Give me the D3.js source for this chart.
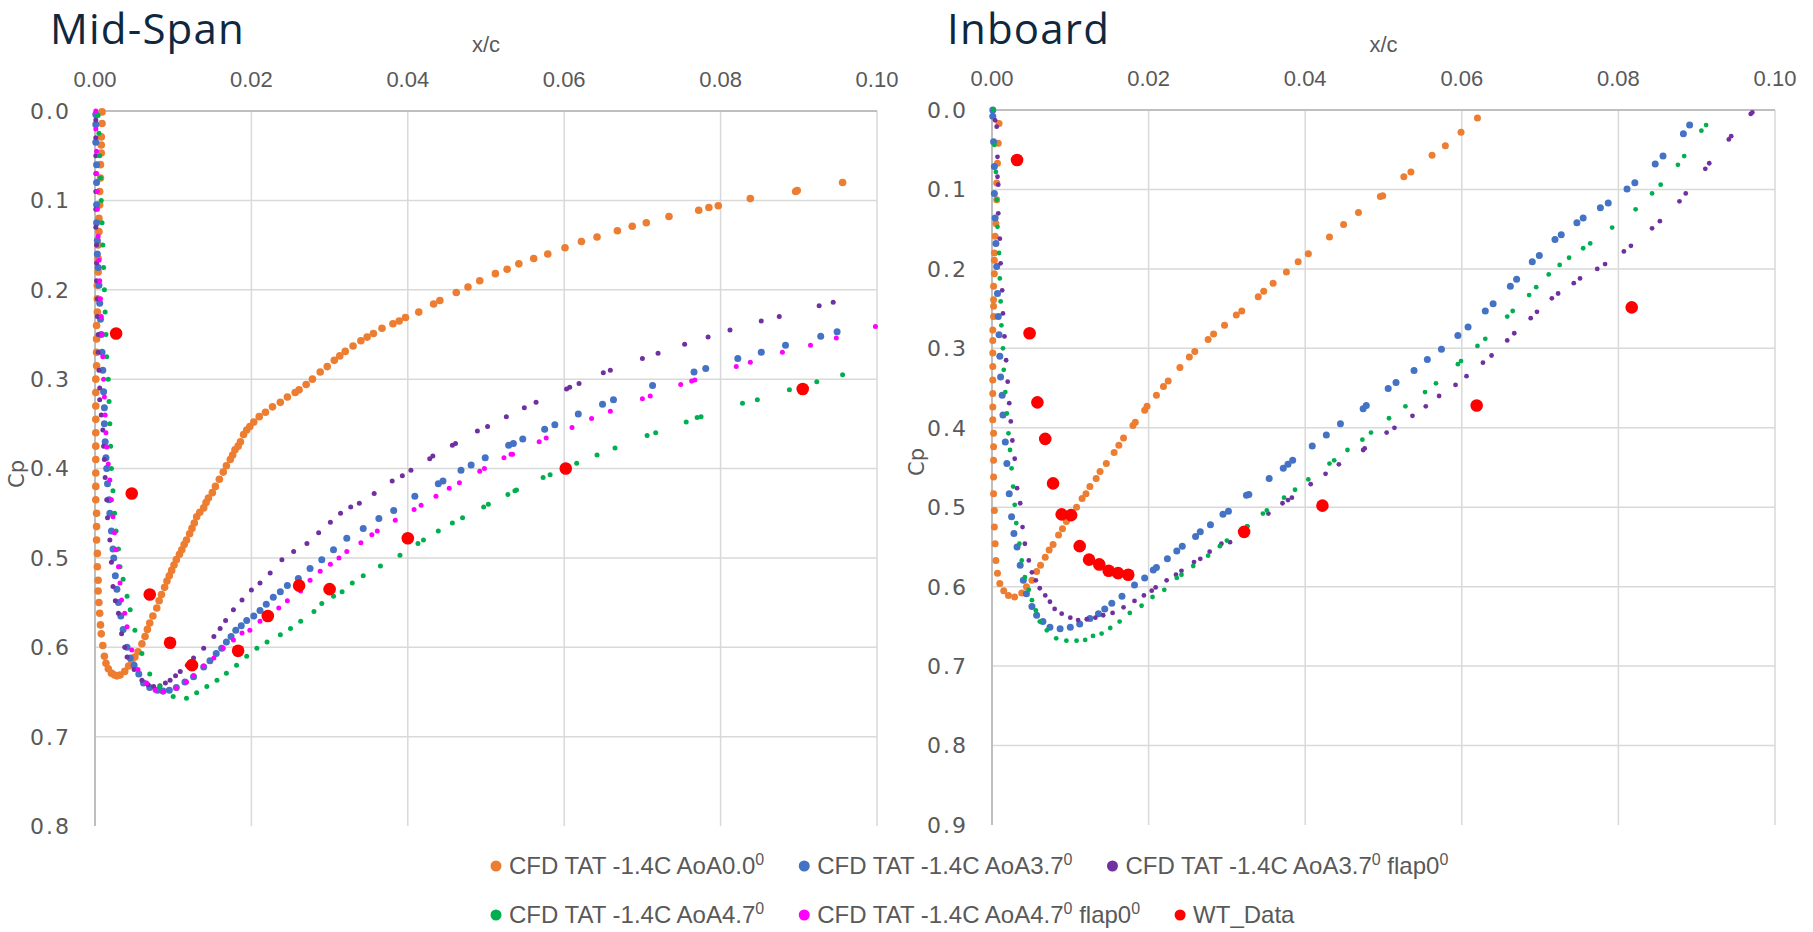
<!DOCTYPE html>
<html>
<head>
<meta charset="utf-8">
<script src="https://cdn.jsdelivr.net/npm/d3@7"></script>
<style>
  body { margin: 0; background: #ffffff; }
  svg { display: block; }
</style>
</head>
<body>
<svg id="chart" width="1813" height="932"></svg>
<script>
// ---- data (x/c, Cp) ----
let xTicks = [0, 0.02, 0.04, 0.06, 0.08, 0.10];
let midYTicks = [0, 0.1, 0.2, 0.3, 0.4, 0.5, 0.6, 0.7, 0.8];
let inbYTicks = [0, 0.1, 0.2, 0.3, 0.4, 0.5, 0.6, 0.7, 0.8, 0.9];

let legendLabels = [
  ["CFD TAT -1.4C AoA0.0", "0", ""],
  ["CFD TAT -1.4C AoA3.7", "0", ""],
  ["CFD TAT -1.4C AoA3.7", "0", " flap0", "0"],
  ["CFD TAT -1.4C AoA4.7", "0", ""],
  ["CFD TAT -1.4C AoA4.7", "0", " flap0", "0"],
  ["WT_Data"]
];

// Mid-Span
let midOrange = [[0.0009,0.001],[0.0009,0.014],[0.0008,0.029],[0.0008,0.038],[0.0008,0.047],[0.0007,0.060],[0.0007,0.075],[0.0006,0.090],[0.0006,0.105],[0.0005,0.120],[0.0005,0.135],[0.0004,0.150],[0.0004,0.165],[0.0004,0.180],[0.0003,0.195],[0.0003,0.210],[0.0003,0.225],[0.0002,0.240],[0.0002,0.255],[0.0002,0.270],[0.0002,0.285],[0.0001,0.300],[0.0001,0.315],[0.0001,0.330],[0.0001,0.345],[0.0001,0.360],[0.0001,0.375],[0.0001,0.390],[0.0001,0.405],[0.0001,0.420],[0.0001,0.435],[0.0002,0.450],[0.0002,0.465],[0.0002,0.480],[0.0003,0.495],[0.0003,0.510],[0.0004,0.525],[0.0004,0.537],[0.0005,0.550],[0.0006,0.562],[0.0007,0.575],[0.0008,0.585],[0.0010,0.598],[0.0012,0.610],[0.0014,0.618],[0.0017,0.624],[0.0021,0.629],[0.0025,0.631],[0.0028,0.632],[0.0032,0.631],[0.0038,0.627],[0.0043,0.621],[0.0047,0.617],[0.0051,0.611],[0.0055,0.605],[0.0060,0.596],[0.0064,0.588],[0.0067,0.580],[0.0070,0.573],[0.0074,0.565],[0.0079,0.556],[0.0082,0.548],[0.0085,0.541],[0.0089,0.533],[0.0092,0.526],[0.0095,0.520],[0.0098,0.514],[0.0101,0.508],[0.0104,0.502],[0.0108,0.496],[0.0111,0.491],[0.0114,0.485],[0.0117,0.480],[0.0121,0.473],[0.0124,0.467],[0.0127,0.461],[0.0130,0.454],[0.0134,0.449],[0.0139,0.444],[0.0142,0.438],[0.0145,0.433],[0.0150,0.427],[0.0154,0.420],[0.0159,0.412],[0.0164,0.404],[0.0168,0.397],[0.0173,0.390],[0.0176,0.385],[0.0179,0.379],[0.0183,0.375],[0.0186,0.370],[0.0190,0.362],[0.0194,0.357],[0.0198,0.353],[0.0203,0.348],[0.0210,0.342],[0.0218,0.337],[0.0227,0.331],[0.0237,0.326],[0.0246,0.320],[0.0256,0.315],[0.0261,0.312],[0.0270,0.306],[0.0278,0.300],[0.0288,0.292],[0.0297,0.286],[0.0306,0.279],[0.0313,0.274],[0.0320,0.269],[0.0330,0.263],[0.0340,0.257],[0.0348,0.253],[0.0356,0.249],[0.0367,0.243],[0.0381,0.238],[0.0389,0.235],[0.0397,0.231],[0.0414,0.225],[0.0433,0.216],[0.0441,0.212],[0.0462,0.203],[0.0477,0.197],[0.0492,0.190],[0.0512,0.182],[0.0527,0.177],[0.0542,0.171],[0.0561,0.165],[0.0579,0.160],[0.0601,0.153],[0.0622,0.146],[0.0642,0.141],[0.0668,0.134],[0.0687,0.129],[0.0705,0.125],[0.0734,0.118],[0.0772,0.111],[0.0785,0.108],[0.0797,0.106],[0.0838,0.098],[0.0896,0.090],[0.0898,0.089],[0.0956,0.080]];

let midBlue = [[0.0001,0.004],[0.0001,0.015],[0.0001,0.035],[0.0002,0.060],[0.0002,0.080],[0.0002,0.105],[0.0002,0.125],[0.0003,0.145],[0.0003,0.160],[0.0004,0.175],[0.0005,0.195],[0.0006,0.215],[0.0007,0.233],[0.0008,0.250],[0.0009,0.270],[0.0010,0.290],[0.0011,0.314],[0.0012,0.332],[0.0012,0.350],[0.0013,0.370],[0.0014,0.388],[0.0015,0.400],[0.0016,0.417],[0.0018,0.435],[0.0019,0.450],[0.0021,0.470],[0.0023,0.490],[0.0024,0.500],[0.0026,0.520],[0.0028,0.535],[0.0030,0.550],[0.0033,0.565],[0.0036,0.580],[0.0041,0.600],[0.0045,0.612],[0.0050,0.620],[0.0056,0.630],[0.0062,0.640],[0.0070,0.645],[0.0080,0.648],[0.0087,0.649],[0.0095,0.648],[0.0104,0.645],[0.0115,0.639],[0.0126,0.633],[0.0139,0.622],[0.0147,0.615],[0.0155,0.607],[0.0162,0.601],[0.0168,0.594],[0.0174,0.588],[0.0180,0.581],[0.0187,0.576],[0.0194,0.570],[0.0203,0.565],[0.0211,0.559],[0.0219,0.552],[0.0228,0.544],[0.0237,0.538],[0.0246,0.531],[0.0260,0.523],[0.0275,0.512],[0.0290,0.502],[0.0305,0.491],[0.0322,0.478],[0.0343,0.467],[0.0363,0.456],[0.0382,0.447],[0.0409,0.431],[0.0439,0.417],[0.0445,0.414],[0.0468,0.402],[0.0481,0.396],[0.0499,0.388],[0.0529,0.374],[0.0535,0.372],[0.0547,0.367],[0.0575,0.356],[0.0588,0.351],[0.0618,0.339],[0.0649,0.328],[0.0663,0.323],[0.0713,0.307],[0.0766,0.292],[0.0781,0.288],[0.0822,0.277],[0.0852,0.270],[0.0883,0.262],[0.0928,0.252],[0.0949,0.247]];

let midPurple = [[0.0001,0.010],[0.0001,0.030],[0.0001,0.050],[0.0001,0.070],[0.0001,0.090],[0.0001,0.110],[0.0001,0.130],[0.0002,0.150],[0.0002,0.170],[0.0002,0.190],[0.0003,0.210],[0.0003,0.230],[0.0004,0.250],[0.0004,0.270],[0.0005,0.290],[0.0006,0.310],[0.0006,0.323],[0.0008,0.340],[0.0010,0.357],[0.0011,0.375],[0.0012,0.390],[0.0013,0.410],[0.0015,0.435],[0.0016,0.455],[0.0019,0.480],[0.0021,0.505],[0.0023,0.532],[0.0026,0.548],[0.0030,0.562],[0.0034,0.585],[0.0038,0.600],[0.0041,0.611],[0.0050,0.625],[0.0060,0.637],[0.0068,0.642],[0.0075,0.644],[0.0083,0.643],[0.0090,0.640],[0.0096,0.637],[0.0103,0.632],[0.0109,0.627],[0.0118,0.620],[0.0126,0.612],[0.0139,0.601],[0.0152,0.588],[0.0160,0.579],[0.0167,0.570],[0.0177,0.558],[0.0188,0.547],[0.0200,0.536],[0.0211,0.528],[0.0224,0.517],[0.0239,0.502],[0.0254,0.493],[0.0271,0.484],[0.0286,0.472],[0.0301,0.460],[0.0314,0.450],[0.0327,0.443],[0.0338,0.439],[0.0357,0.428],[0.0380,0.414],[0.0393,0.408],[0.0404,0.402],[0.0428,0.389],[0.0432,0.386],[0.0457,0.374],[0.0461,0.372],[0.0489,0.358],[0.0502,0.353],[0.0526,0.342],[0.0549,0.332],[0.0564,0.326],[0.0603,0.311],[0.0607,0.309],[0.0619,0.305],[0.0650,0.293],[0.0659,0.290],[0.0700,0.277],[0.0720,0.271],[0.0754,0.261],[0.0784,0.253],[0.0812,0.245],[0.0852,0.235],[0.0875,0.230],[0.0926,0.218],[0.0944,0.214]];

let midGreen = [[0.0004,0.005],[0.0005,0.025],[0.0006,0.050],[0.0007,0.075],[0.0008,0.100],[0.0009,0.125],[0.0010,0.150],[0.0011,0.175],[0.0012,0.200],[0.0013,0.225],[0.0014,0.250],[0.0015,0.275],[0.0017,0.300],[0.0018,0.325],[0.0019,0.350],[0.0020,0.375],[0.0021,0.400],[0.0023,0.425],[0.0025,0.450],[0.0027,0.470],[0.0030,0.490],[0.0032,0.510],[0.0036,0.524],[0.0041,0.543],[0.0045,0.558],[0.0051,0.581],[0.0060,0.607],[0.0070,0.630],[0.0083,0.644],[0.0100,0.655],[0.0117,0.657],[0.0130,0.651],[0.0143,0.644],[0.0156,0.637],[0.0168,0.629],[0.0181,0.620],[0.0194,0.610],[0.0207,0.601],[0.0220,0.594],[0.0237,0.586],[0.0250,0.579],[0.0263,0.571],[0.0280,0.560],[0.0290,0.551],[0.0305,0.543],[0.0316,0.538],[0.0329,0.528],[0.0343,0.520],[0.0365,0.509],[0.0390,0.497],[0.0413,0.484],[0.0420,0.480],[0.0439,0.470],[0.0457,0.461],[0.0470,0.455],[0.0497,0.443],[0.0503,0.440],[0.0528,0.429],[0.0537,0.425],[0.0539,0.424],[0.0573,0.410],[0.0582,0.407],[0.0616,0.394],[0.0642,0.385],[0.0665,0.377],[0.0706,0.363],[0.0717,0.360],[0.0756,0.348],[0.0770,0.343],[0.0775,0.342],[0.0828,0.327],[0.0847,0.323],[0.0888,0.312],[0.0923,0.303],[0.0956,0.295]];

let midMagenta = [[0.0001,0.000],[0.0001,0.020],[0.0002,0.045],[0.0002,0.070],[0.0003,0.090],[0.0003,0.110],[0.0004,0.140],[0.0005,0.167],[0.0006,0.190],[0.0007,0.210],[0.0008,0.230],[0.0009,0.250],[0.0010,0.275],[0.0011,0.300],[0.0012,0.320],[0.0013,0.340],[0.0014,0.360],[0.0015,0.376],[0.0017,0.395],[0.0019,0.413],[0.0021,0.435],[0.0023,0.454],[0.0025,0.472],[0.0027,0.491],[0.0030,0.510],[0.0032,0.528],[0.0034,0.547],[0.0038,0.562],[0.0041,0.577],[0.0047,0.603],[0.0055,0.625],[0.0066,0.640],[0.0077,0.648],[0.0087,0.650],[0.0104,0.646],[0.0117,0.639],[0.0126,0.632],[0.0139,0.621],[0.0152,0.612],[0.0164,0.601],[0.0177,0.592],[0.0188,0.584],[0.0198,0.581],[0.0211,0.571],[0.0222,0.564],[0.0235,0.556],[0.0246,0.548],[0.0263,0.537],[0.0275,0.525],[0.0288,0.515],[0.0301,0.507],[0.0312,0.500],[0.0322,0.493],[0.0340,0.483],[0.0354,0.474],[0.0361,0.470],[0.0384,0.458],[0.0408,0.446],[0.0417,0.441],[0.0436,0.431],[0.0453,0.422],[0.0466,0.416],[0.0492,0.403],[0.0498,0.400],[0.0523,0.388],[0.0532,0.384],[0.0534,0.384],[0.0568,0.370],[0.0577,0.366],[0.0610,0.354],[0.0635,0.344],[0.0659,0.336],[0.0700,0.322],[0.0710,0.319],[0.0749,0.306],[0.0763,0.302],[0.0767,0.301],[0.0820,0.286],[0.0838,0.281],[0.0879,0.270],[0.0915,0.262],[0.0948,0.254],[0.0998,0.241]];

let midWT = [[0.0027,0.249],[0.0047,0.428],[0.0070,0.541],[0.0096,0.595],[0.0124,0.620],[0.0183,0.604],[0.0221,0.565],[0.0261,0.531],[0.0300,0.535],[0.0400,0.478],[0.0602,0.400],[0.0905,0.311]];

// Inboard
let inbOrange = [[0.0009,0.017],[0.0008,0.042],[0.0007,0.067],[0.0006,0.092],[0.0006,0.113],[0.0005,0.143],[0.0004,0.159],[0.0003,0.180],[0.0003,0.189],[0.0003,0.206],[0.0002,0.222],[0.0002,0.239],[0.0002,0.247],[0.0002,0.260],[0.0001,0.277],[0.0001,0.290],[0.0001,0.306],[0.0001,0.323],[0.0001,0.340],[0.0001,0.357],[0.0001,0.374],[0.0001,0.390],[0.0002,0.407],[0.0002,0.424],[0.0002,0.441],[0.0002,0.462],[0.0002,0.483],[0.0003,0.504],[0.0003,0.525],[0.0004,0.546],[0.0005,0.567],[0.0007,0.583],[0.0010,0.596],[0.0015,0.605],[0.0021,0.611],[0.0029,0.613],[0.0038,0.608],[0.0044,0.600],[0.0051,0.592],[0.0057,0.581],[0.0062,0.573],[0.0068,0.563],[0.0073,0.554],[0.0078,0.547],[0.0085,0.535],[0.0090,0.527],[0.0095,0.518],[0.0103,0.508],[0.0108,0.500],[0.0115,0.489],[0.0120,0.483],[0.0125,0.474],[0.0133,0.464],[0.0138,0.455],[0.0146,0.445],[0.0156,0.431],[0.0162,0.422],[0.0168,0.413],[0.0180,0.397],[0.0183,0.393],[0.0195,0.378],[0.0198,0.373],[0.0210,0.359],[0.0219,0.348],[0.0225,0.341],[0.0240,0.324],[0.0252,0.311],[0.0259,0.304],[0.0276,0.289],[0.0283,0.282],[0.0297,0.271],[0.0312,0.258],[0.0319,0.253],[0.0340,0.235],[0.0347,0.228],[0.0359,0.218],[0.0376,0.204],[0.0391,0.191],[0.0404,0.181],[0.0431,0.160],[0.0449,0.144],[0.0468,0.129],[0.0496,0.109],[0.0499,0.108],[0.0526,0.084],[0.0535,0.078],[0.0562,0.057],[0.0579,0.045],[0.0599,0.028],[0.0620,0.010]];

let inbBlue = [[0.0001,0.000],[0.0001,0.008],[0.0002,0.040],[0.0003,0.071],[0.0003,0.105],[0.0004,0.136],[0.0005,0.168],[0.0006,0.197],[0.0007,0.231],[0.0008,0.260],[0.0009,0.283],[0.0010,0.310],[0.0011,0.336],[0.0013,0.359],[0.0014,0.384],[0.0017,0.418],[0.0019,0.445],[0.0022,0.483],[0.0025,0.512],[0.0028,0.533],[0.0032,0.550],[0.0036,0.573],[0.0040,0.592],[0.0044,0.609],[0.0051,0.625],[0.0057,0.636],[0.0065,0.644],[0.0074,0.651],[0.0087,0.653],[0.0100,0.651],[0.0112,0.647],[0.0125,0.640],[0.0136,0.634],[0.0144,0.628],[0.0153,0.621],[0.0166,0.612],[0.0182,0.598],[0.0195,0.589],[0.0206,0.579],[0.0210,0.576],[0.0224,0.565],[0.0236,0.555],[0.0243,0.549],[0.0260,0.537],[0.0266,0.531],[0.0279,0.522],[0.0295,0.509],[0.0302,0.505],[0.0325,0.485],[0.0328,0.484],[0.0354,0.464],[0.0372,0.451],[0.0378,0.446],[0.0384,0.441],[0.0409,0.423],[0.0427,0.409],[0.0445,0.395],[0.0474,0.376],[0.0478,0.372],[0.0506,0.3505],[0.0516,0.343],[0.0539,0.328],[0.0556,0.314],[0.0574,0.301],[0.0595,0.284],[0.0608,0.273],[0.0630,0.253],[0.0640,0.244],[0.0662,0.222],[0.0670,0.213],[0.0690,0.191],[0.0699,0.183],[0.0719,0.163],[0.0727,0.157],[0.0747,0.142],[0.0755,0.136],[0.0777,0.123],[0.0787,0.117],[0.0811,0.0995],[0.0821,0.0915],[0.0847,0.068],[0.0857,0.058],[0.0883,0.030],[0.0891,0.019]];

let inbPurple = [[0.0004,0.013],[0.0006,0.021],[0.0007,0.059],[0.0007,0.084],[0.0008,0.094],[0.0008,0.130],[0.0010,0.162],[0.0011,0.193],[0.0013,0.227],[0.0014,0.256],[0.0016,0.285],[0.0018,0.315],[0.0020,0.342],[0.0022,0.369],[0.0024,0.392],[0.0026,0.416],[0.0029,0.439],[0.0032,0.476],[0.0036,0.495],[0.0039,0.525],[0.0042,0.546],[0.0047,0.567],[0.0051,0.582],[0.0056,0.592],[0.0061,0.602],[0.0068,0.611],[0.0074,0.619],[0.0080,0.628],[0.0089,0.634],[0.0100,0.639],[0.0110,0.642],[0.0121,0.641],[0.0132,0.639],[0.0142,0.636],[0.0154,0.633],[0.0168,0.626],[0.0182,0.618],[0.0194,0.611],[0.0204,0.605],[0.0209,0.601],[0.0223,0.592],[0.0235,0.585],[0.0242,0.580],[0.0258,0.569],[0.0266,0.565],[0.0278,0.556],[0.0293,0.546],[0.0304,0.544],[0.0326,0.524],[0.0353,0.508],[0.0371,0.495],[0.0378,0.491],[0.0383,0.488],[0.0407,0.471],[0.0426,0.458],[0.0443,0.446],[0.0474,0.428],[0.0476,0.426],[0.0504,0.406],[0.0514,0.400],[0.0537,0.385],[0.0554,0.373],[0.0571,0.360],[0.0592,0.346],[0.0606,0.335],[0.0627,0.318],[0.0638,0.309],[0.0658,0.290],[0.0667,0.281],[0.0688,0.262],[0.0696,0.254],[0.0715,0.237],[0.0723,0.231],[0.0743,0.218],[0.0751,0.212],[0.0773,0.200],[0.0783,0.194],[0.0807,0.178],[0.0816,0.171],[0.0843,0.149],[0.0853,0.140],[0.0878,0.115],[0.0886,0.105],[0.0911,0.074],[0.0916,0.067],[0.0941,0.037],[0.0944,0.033],[0.0969,0.005],[0.0971,0.003]];

let inbGreen = [[0.0002,0.000],[0.0003,0.044],[0.0005,0.078],[0.0006,0.113],[0.0007,0.147],[0.0009,0.180],[0.0010,0.212],[0.0011,0.241],[0.0012,0.271],[0.0014,0.300],[0.0015,0.327],[0.0017,0.355],[0.0019,0.382],[0.0021,0.407],[0.0023,0.428],[0.0025,0.451],[0.0027,0.474],[0.0029,0.497],[0.0031,0.520],[0.0035,0.546],[0.0038,0.567],[0.0042,0.588],[0.0047,0.604],[0.0051,0.617],[0.0056,0.630],[0.0061,0.644],[0.0070,0.655],[0.0082,0.665],[0.0095,0.668],[0.0108,0.668],[0.0119,0.667],[0.0129,0.662],[0.0140,0.659],[0.0151,0.652],[0.0163,0.644],[0.0176,0.633],[0.0191,0.624],[0.0205,0.613],[0.0220,0.604],[0.0236,0.589],[0.0242,0.585],[0.0257,0.574],[0.0276,0.561],[0.0291,0.549],[0.0300,0.542],[0.0326,0.524],[0.0346,0.508],[0.0351,0.504],[0.0373,0.488],[0.0387,0.478],[0.0404,0.465],[0.0431,0.445],[0.0437,0.441],[0.0454,0.428],[0.0473,0.415],[0.0484,0.406],[0.0507,0.388],[0.0528,0.373],[0.0553,0.355],[0.0567,0.344],[0.0595,0.320],[0.0599,0.316],[0.0620,0.297],[0.0630,0.288],[0.0658,0.260],[0.0665,0.253],[0.0686,0.233],[0.0695,0.223],[0.0711,0.207],[0.0725,0.195],[0.0737,0.186],[0.0755,0.174],[0.0764,0.168],[0.0792,0.148],[0.0822,0.125],[0.0843,0.105],[0.0854,0.094],[0.0876,0.069],[0.0884,0.058],[0.0906,0.026],[0.0912,0.019]];

let inbWT = [[0.0032,0.063],[0.0048,0.281],[0.0058,0.368],[0.0068,0.414],[0.0078,0.470],[0.0089,0.509],[0.0101,0.510],[0.0112,0.549],[0.0124,0.566],[0.0137,0.572],[0.0149,0.580],[0.0161,0.583],[0.0174,0.585],[0.0322,0.531],[0.0422,0.498],[0.0619,0.372],[0.0817,0.2485]];

// ---- styling ----
let orangeColor = "#ED7D31", blueColor = "#4472C4", purpleColor = "#7030A0";
let greenColor = "#00B050", magentaColor = "#FF00FF", redColor = "#FF0000";
let gridColor = "#d9d9d9", axisColor = "#bfbfbf", tickColor = "#595959";
let tickFont = "'Liberation Sans', sans-serif";
let yTickFont = "'DejaVu Sans', sans-serif";

let svg = d3.select("#chart");

function drawPanel(opt) {
  let x = d3.scaleLinear().domain([0, 0.1]).range([opt.left, opt.right]);
  let y = d3.scaleLinear().domain([0, opt.yMax]).range([opt.top, opt.bottom]);
  let g = svg.append("g");

  // horizontal grid
  g.selectAll(".hgrid")
    .data(opt.yTicks.filter(d => d > 0 && d < opt.yMax - 1e-9))
    .enter().append("line")
      .attr("x1", opt.left).attr("x2", opt.right)
      .attr("y1", d => y(d)).attr("y2", d => y(d))
      .style("stroke", gridColor).style("stroke-width", 1.5);

  // vertical grid
  g.selectAll(".vgrid")
    .data(xTicks.filter(d => d > 0))
    .enter().append("line")
      .attr("x1", d => x(d)).attr("x2", d => x(d))
      .attr("y1", opt.top).attr("y2", opt.bottom)
      .style("stroke", gridColor).style("stroke-width", 1.5);

  // axis lines (x on top at Cp = 0, y on the left)
  g.append("line")
    .attr("x1", opt.left).attr("x2", opt.right)
    .attr("y1", y(0)).attr("y2", y(0))
    .style("stroke", axisColor).style("stroke-width", 2);
  g.append("line")
    .attr("x1", x(0)).attr("x2", x(0))
    .attr("y1", opt.top).attr("y2", opt.bottom)
    .style("stroke", axisColor).style("stroke-width", 2);

  // x tick labels
  g.selectAll(".xlab")
    .data(xTicks)
    .enter().append("text")
      .attr("x", d => x(d))
      .attr("y", opt.top - 24)
      .text(d => d3.format(".2f")(d))
      .style("text-anchor", "middle")
      .style("font-family", tickFont)
      .style("font-size", "22px")
      .style("fill", tickColor);

  // y tick labels
  g.selectAll(".ylab")
    .data(opt.yTicks)
    .enter().append("text")
      .attr("x", opt.left - 24)
      .attr("y", d => y(d))
      .attr("dy", "0.36em")
      .text(d => d3.format(".1f")(d))
      .style("text-anchor", "end")
      .style("font-family", yTickFont)
      .style("font-size", "22px")
      .style("letter-spacing", "2px")
      .style("fill", tickColor);

  // axis titles
  g.append("text")
    .attr("x", (opt.left + opt.right) / 2)
    .attr("y", 52)
    .text("x/c")
    .style("text-anchor", "middle")
    .style("font-family", tickFont)
    .style("font-size", "22px")
    .style("fill", tickColor);
  g.append("text")
    .attr("transform", "translate(" + opt.cpX + "," + opt.cpY + ") rotate(-90)")
    .text("Cp")
    .style("text-anchor", "middle")
    .style("font-family", yTickFont)
    .style("font-size", "21px")
    .style("fill", tickColor);

  // panel title
  g.append("text")
    .attr("x", opt.titleX)
    .attr("y", 44)
    .text(opt.title)
    .style("font-family", "'Open Sans', sans-serif")
    .style("font-size", "42px")
    .style("letter-spacing", "1.2px")
    .style("fill", "#0E2841");

  // series, drawn in legend order so later ones sit on top
  opt.series.forEach(function(s) {
    g.selectAll(null)
      .data(s.data)
      .enter().append("circle")
        .attr("cx", d => x(d[0]))
        .attr("cy", d => y(d[1]))
        .attr("r", s.r)
        .style("fill", s.color);
  });
}

drawPanel({
  title: "Mid-Span", titleX: 50,
  left: 95, right: 877, top: 111, bottom: 826,
  yMax: 0.8, yTicks: midYTicks,
  cpX: 24, cpY: 474,
  series: [
    {data: midOrange, color: orangeColor, r: 3.8},
    {data: midBlue, color: blueColor, r: 3.5},
    {data: midPurple, color: purpleColor, r: 2.5},
    {data: midGreen, color: greenColor, r: 2.5},
    {data: midMagenta, color: magentaColor, r: 2.5},
    {data: midWT, color: redColor, r: 6.3}
  ]
});

drawPanel({
  title: "Inboard", titleX: 947,
  left: 992, right: 1775, top: 110, bottom: 825,
  yMax: 0.9, yTicks: inbYTicks,
  cpX: 924, cpY: 462,
  series: [
    {data: inbOrange, color: orangeColor, r: 3.5},
    {data: inbBlue, color: blueColor, r: 3.5},
    {data: inbPurple, color: purpleColor, r: 2.4},
    {data: inbGreen, color: greenColor, r: 2.4},
    {data: inbWT, color: redColor, r: 6.3}
  ]
});

// ---- legend (entries flow left to right, two rows) ----
let legendColors = [orangeColor, blueColor, purpleColor, greenColor, magentaColor, redColor];
let legendRows = [[0, 1, 2], [3, 4, 5]];
let legendRowY = [866, 915];
let legendLeft = 496;
let legendGap = 40;

let legend = svg.append("g");
legendRows.forEach(function(row, r) {
  let cx = legendLeft;
  row.forEach(function(i) {
    legend.append("circle")
      .attr("cx", cx).attr("cy", legendRowY[r])
      .attr("r", 5.5)
      .style("fill", legendColors[i]);
    let t = legend.append("text")
      .attr("x", cx + 13)
      .attr("y", legendRowY[r] + 8)
      .style("font-family", tickFont)
      .style("font-size", "24px")
      .style("fill", tickColor);
    legendLabels[i].forEach(function(part, j) {
      let sup = (j % 2 === 1);
      t.append("tspan")
        .attr("dy", sup ? -9 : (j > 0 ? 9 : 0))
        .style("font-size", sup ? "16px" : "24px")
        .text(part);
    });
    cx += 13 + t.node().getComputedTextLength() + legendGap;
  });
});
</script>
</body>
</html>
